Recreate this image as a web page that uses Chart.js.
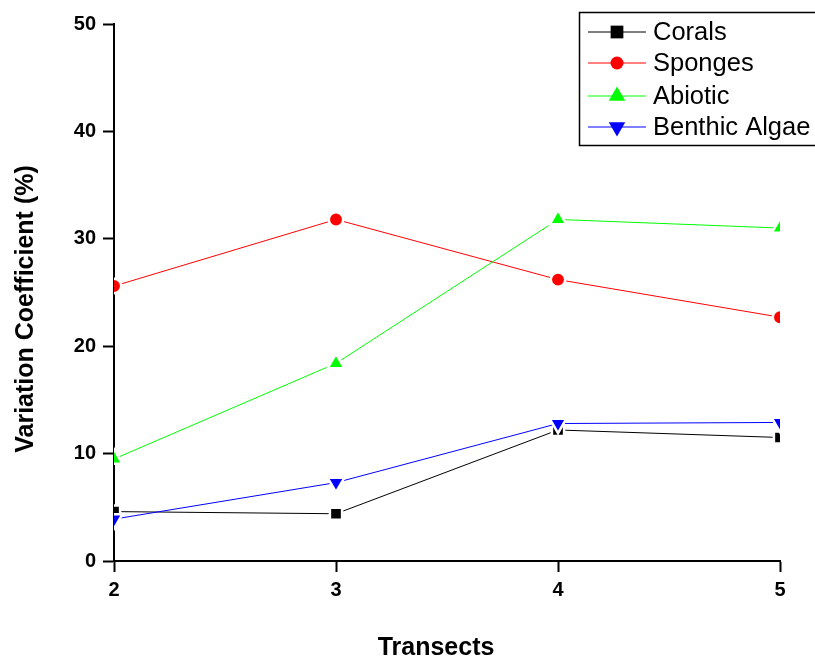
<!DOCTYPE html>
<html>
<head>
<meta charset="utf-8">
<script src="https://cdn.jsdelivr.net/npm/chart.js@4"></script>
<style>
  html, body { margin: 0; padding: 0; background: #fff; }
  canvas { display: block; }
</style>
</head>
<body>
<canvas id="cvChart" width="815" height="660"></canvas>
<script>
// valores
const transects = [2, 3, 4, 5];
const corals = [4.6, 4.4, 12.2, 11.5];
const sponges = [25.6, 31.8, 26.2, 22.7];
const abiotic = [9.5, 18.4, 31.8, 31.0];
const benthicAlgae = [3.9, 7.3, 12.8, 12.9];
const yTicks = [0, 10, 20, 30, 40, 50];
const seriesNames = ['Corals', 'Sponges', 'Abiotic', 'Benthic Algae'];

const FONT = '"Liberation Sans", Arial, sans-serif';

const toPoints = vals => vals.map((v, i) => ({ x: transects[i], y: v }));

function makeSet(label, vals, color, style, radius, rotation, order) {
  return {
    label: label,
    data: toPoints(vals),
    borderColor: color,
    backgroundColor: color,
    borderWidth: 1,
    pointStyle: style,
    pointRadius: radius,
    pointRotation: rotation,
    pointBackgroundColor: color,
    pointBorderColor: '#fff',
    pointBorderWidth: 2.5,
    tension: 0,
    clip: 0,
    order: order
  };
}

const datasets = [
  makeSet(seriesNames[0], corals, '#000000', 'rect', 8.6, 0, 4),
  makeSet(seriesNames[1], sponges, '#ff0000', 'circle', 7.2, 0, 3),
  makeSet(seriesNames[2], abiotic, '#00ff00', 'triangle', 9.6, 0, 2),
  makeSet(seriesNames[3], benthicAlgae, '#0000ff', 'triangle', 9.6, 180, 1)
];

// legenda no estilo da figura original (caixa com linha + marcador)
const boxLegend = {
  id: 'boxLegend',
  afterDraw(chart) {
    const ctx = chart.ctx;
    ctx.save();
    ctx.lineWidth = 1.5;
    ctx.strokeStyle = '#000';
    ctx.strokeRect(579.5, 12.5, 260, 133);
    const rows = [32, 63, 96, 127];
    const sizes = [9, 6.5, 9.5, 9.5];
    chart.data.datasets.forEach((ds, i) => {
      const y = rows[i];
      ctx.strokeStyle = ds.borderColor;
      ctx.lineWidth = 1;
      ctx.beginPath();
      ctx.moveTo(588, y);
      ctx.lineTo(646, y);
      ctx.stroke();
      ctx.fillStyle = ds.borderColor;
      Chart.helpers.drawPoint(ctx, {
        pointStyle: ds.pointStyle,
        radius: sizes[i],
        rotation: ds.pointRotation,
        borderWidth: 0
      }, 617, y);
      ctx.fillStyle = '#000';
      ctx.font = '25.5px ' + FONT;
      ctx.textAlign = 'left';
      ctx.textBaseline = 'middle';
      ctx.fillText(ds.label, 653, y + 1);
    });
    ctx.restore();
  }
};

// títulos dos eixos
const axisTitles = {
  id: 'axisTitles',
  afterDraw(chart) {
    const ctx = chart.ctx;
    ctx.save();
    ctx.fillStyle = '#000';
    ctx.font = 'bold 25px ' + FONT;
    ctx.textAlign = 'center';
    ctx.textBaseline = 'middle';
    ctx.fillText('Transects', 436, 648);
    ctx.translate(26, 309);
    ctx.rotate(-Math.PI / 2);
    ctx.fillText('Variation Coefficient (%)', 0, 0);
    ctx.restore();
  }
};

new Chart(document.getElementById('cvChart'), {
  type: 'line',
  data: { datasets: datasets },
  options: {
    responsive: false,
    animation: false,
    layout: { padding: { top: 24, right: 35, left: 0, bottom: 0 } },
    plugins: {
      legend: { display: false },
      tooltip: { enabled: false }
    },
    scales: {
      x: {
        type: 'linear',
        min: transects[0],
        max: transects[transects.length - 1],
        afterFit: scale => { scale.height = 99; },
        afterBuildTicks: scale => { scale.ticks = transects.map(v => ({ value: v })); },
        grid: { drawOnChartArea: false, tickLength: 11, tickWidth: 2, tickColor: '#000' },
        border: { display: true, color: '#000', width: 2 },
        ticks: { color: '#000', padding: 6, font: { family: FONT, size: 20, weight: 'bold' } }
      },
      y: {
        min: yTicks[0],
        max: yTicks[yTicks.length - 1],
        afterFit: scale => { scale.width = 114; },
        afterBuildTicks: scale => { scale.ticks = yTicks.map(v => ({ value: v })); },
        grid: { drawOnChartArea: false, tickLength: 11, tickWidth: 2, tickColor: '#000' },
        border: { display: true, color: '#000', width: 2 },
        ticks: { color: '#000', padding: 7, font: { family: FONT, size: 20, weight: 'bold' } }
      }
    }
  },
  plugins: [boxLegend, axisTitles]
});
</script>
</body>
</html>
